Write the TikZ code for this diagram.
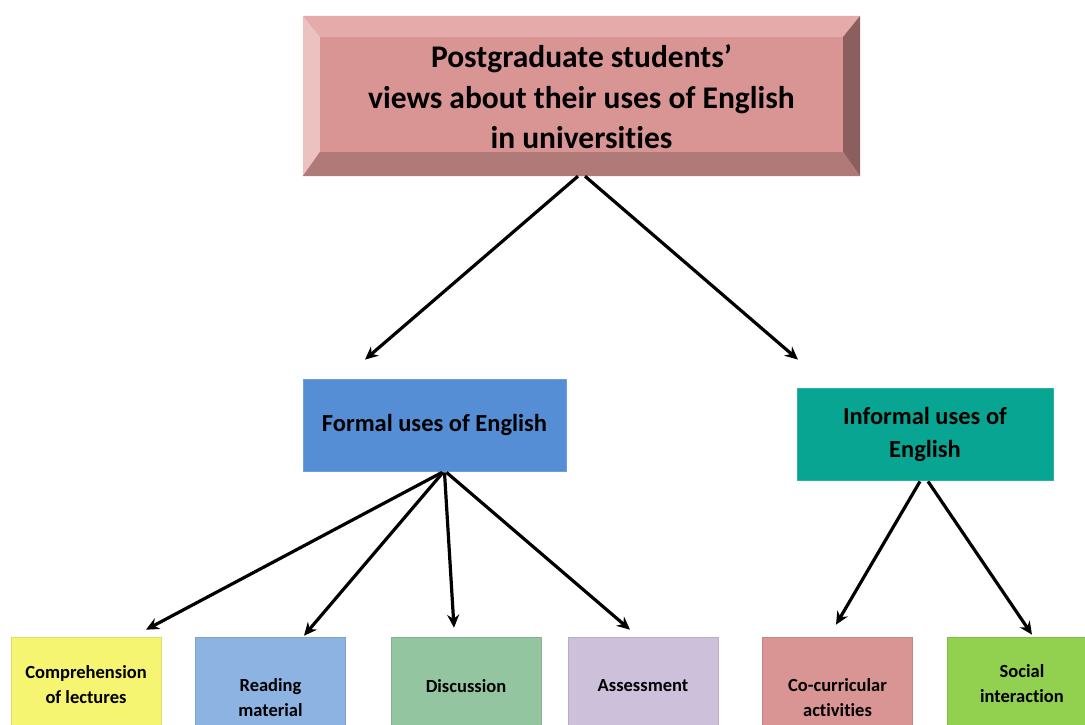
\documentclass[tikz,border=0pt]{standalone}
\usepackage{fontspec}
\setmainfont[Ligatures=NoCommon]{Carlito}
\usetikzlibrary{arrows.meta,calc}

\definecolor{roseface}{HTML}{D99594}
\definecolor{rosetop}{HTML}{E4ABAA}
\definecolor{roseleft}{HTML}{ECC2C1}
\definecolor{roseright}{HTML}{8C5E5D}
\definecolor{rosebottom}{HTML}{B07A79}
\definecolor{formalblue}{HTML}{558ED5}
\definecolor{informalteal}{HTML}{07A592}
\definecolor{lemon}{HTML}{F5F571}
\definecolor{skyblue}{HTML}{8DB3E2}
\definecolor{sage}{HTML}{93C6A0}
\definecolor{lilac}{HTML}{CCC0DA}
\definecolor{rosebox}{HTML}{D99594}
\definecolor{leaf}{HTML}{92D050}

\tikzset{
  midbox/.style={draw=#1!85!white, line width=0.8pt, fill=#1, minimum width=263pt,
    minimum height=92pt, align=center, text=black,
    font=\fontsize{24.5}{33}\selectfont\bfseries},
  leafbox/.style={draw=#1!90!black, line width=0.6pt, fill=#1, minimum width=150pt,
    align=center, text=black, font=\fontsize{18.5}{25}\selectfont\bfseries},
  link/.style={line width=3.2pt, -{Stealth[length=13pt,width=12pt]}},
}

\begin{document}
\begin{tikzpicture}[x=1pt,y=-1pt]
\useasboundingbox (0,0) rectangle (1085,724);
\clip (0,0) rectangle (1085,724);

% bevelled title box
\node[minimum width=557pt, minimum height=160pt, inner sep=0pt] (title) at (581.5,96) {};
\fill[roseface] (title.south west) rectangle (title.north east);
\fill[rosetop] (title.north west) -- (title.north east) -- ($(title.north east)+(-17,21)$) -- ($(title.north west)+(17,21)$) -- cycle;
\fill[roseleft] (title.north west) -- ($(title.north west)+(17,21)$) -- ($(title.south west)+(17,-24)$) -- (title.south west) -- cycle;
\fill[roseright] (title.north east) -- ($(title.north east)+(-17,21)$) -- ($(title.south east)+(-17,-24)$) -- (title.south east) -- cycle;
\fill[rosebottom] (title.south west) -- ($(title.south west)+(17,-24)$) -- ($(title.south east)+(-17,-24)$) -- (title.south east) -- cycle;
\node[align=center, font=\fontsize{31.5}{40.5}\selectfont\bfseries] (titletext) at (581.5,97)
  {Postgraduate students’\\views about their uses of English\\in universities};

% second level
\node[midbox=formalblue] (formal) at (434.5,425) {Formal uses of English};
\node[midbox=informalteal, minimum width=256pt] (informal) at (925,434) {Informal uses of\\English};

% third level
\node[leafbox=lemon, minimum height=95pt] (comp) at (86,684.5) {Comprehension\\of lectures};
\node[leafbox=skyblue, minimum height=122pt] (reading) at (270.5,698) {Reading\\material};
\node[leafbox=sage, minimum height=98pt] (discussion) at (466,686) {Discussion};
\node[leafbox=lilac, minimum height=98pt] (assessment) at (643,686) {Assessment};
\node[leafbox=rosebox, minimum height=122pt] (cocurr) at (837.5,698) {Co-curricular\\activities};
\node[leafbox=leaf, minimum height=93pt] (social) at (1022,683.5) {Social\\interaction};

% connectors
\draw[link] ($(title.south)+(-3.5,0)$) -- ($(formal.north)+(-69.5,-19)$);
\draw[link] ($(title.south)+(3.5,0)$) -- ($(informal.north)+(-127,-28)$);

\draw[link] ($(formal.south)+(7.5,1)$) -- ($(comp.north)+(60,-7)$);
\draw[link] ($(formal.south)+(8.5,1)$) -- ($(reading.north)+(33.5,-1)$);
\draw[link] ($(formal.south)+(10,1)$) -- ($(discussion.north)+(-12,-9)$);
\draw[link] ($(formal.south)+(12,1)$) -- ($(assessment.north)+(-13,-7)$);

\draw[link] ($(informal.south)+(-5,1)$) -- ($(cocurr.north)+(-1.5,-12)$);
\draw[link] ($(informal.south)+(3,1)$) -- ($(social.north)+(10,-2)$);
\end{tikzpicture}
\end{document}
